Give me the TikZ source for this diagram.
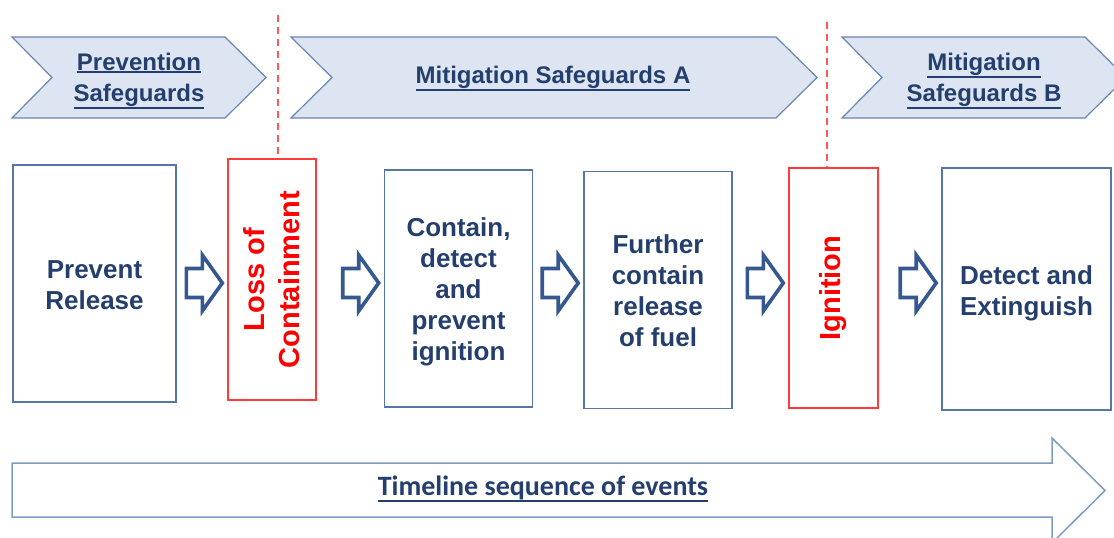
\documentclass[tikz,border=0pt]{standalone}
\usepackage{fontspec}
\setmainfont{Liberation Sans}
\newfontfamily\calfont{Carlito}
\usetikzlibrary{calc}

\definecolor{textblue}{HTML}{243F6E}
\definecolor{boxblue}{HTML}{5675A8}
\definecolor{arrowblue}{HTML}{34588F}
\definecolor{chevfill}{HTML}{DCE5F1}
\definecolor{chevline}{HTML}{6A86B2}
\definecolor{lossred}{HTML}{FF3B3B}
\definecolor{timeline}{HTML}{7F9AC4}

% thick underline below the depth of the word
\newcommand{\undl}[1]{\setbox0\hbox{#1}\rlap{\rule[-\dimexpr\dp0+2.5pt\relax]{\wd0}{2pt}}\box0}

\tikzset{
  bluebox/.style={draw=boxblue, line width=1.6pt, inner sep=0pt},
  bluetext/.style={text=textblue, align=center,
    font=\bfseries\fontsize{26}{31}\selectfont},
  redbox/.style={draw=lossred, line width=1.4pt, inner sep=0pt},
  redtext/.style={rotate=90, text=red, align=center,
    font=\bfseries\fontsize{29}{35}\selectfont},
  chevron/.style={fill=chevfill, draw=chevline, line width=1.2pt},
  chevtext/.style={text=textblue, align=center, font=\bfseries\fontsize{24}{31}\selectfont},
  blockarrow/.style={draw=arrowblue, line width=3.6pt, fill=white},
  cut/.style={draw=lossred!85, line width=1.5pt, dash pattern=on 7pt off 5pt},
}

\newcommand{\blockarr}[2]{%
  \draw[blockarrow] let \p1=(#2.west), \p2=(0,283) in
    (\x1-41pt,\y2+14.5pt) -- (\x1-25pt,\y2+14.5pt) -- (\x1-25pt,\y2+28pt)
    -- (\x1-5pt,\y2) -- (\x1-25pt,\y2-28pt) -- (\x1-25pt,\y2-14.5pt)
    -- (\x1-41pt,\y2-14.5pt) -- cycle;}

\begin{document}
\begin{tikzpicture}[x=1pt, y=-1pt]
  \useasboundingbox (0,0) rectangle (1114,538);
  \clip (0,0) rectangle (1114,538);

  % safeguard bands
  \draw[chevron] (12,37) -- (225,37) -- (266,77.5) -- (225,118) -- (12,118) -- (52,77.5) -- cycle;
  \draw[chevron] (291,37) -- (776,37) -- (817,77.5) -- (776,118) -- (291,118) -- (332,77.5) -- cycle;
  \draw[chevron] (842,37) -- (1085,37) -- (1126,77.5) -- (1085,118) -- (842,118) -- (882,77.5) -- cycle;
  \node[chevtext] (prev) at (139,81) {\undl{Prevention}\\\undl{Safeguards}};
  \node[chevtext] (mitA) at (553,79) {\undl{Mitigation Safeguards A}};
  \node[chevtext] (mitB) at (984,81) {\undl{Mitigation}\\\undl{Safeguards B}};

  % event boxes
  \node[bluebox, minimum width=163, minimum height=237,
        label={[bluetext, yshift=-2pt]center:Prevent\\Release}] (release) at (94.5,283.5) {};
  \node[redbox, minimum width=88, minimum height=241,
        label={[redtext]center:Loss of\\Containment}] (loss) at (272,279.5) {};
  \node[bluebox, minimum width=148, minimum height=237,
        label={[bluetext, yshift=-3pt]center:Contain,\\detect\\and\\prevent\\ignition}] (contain) at (458.5,288.5) {};
  \node[bluebox, minimum width=148, minimum height=237,
        label={[bluetext, yshift=-1pt]center:Further\\contain\\release\\of fuel}] (further) at (658,290) {};
  \node[redbox, minimum width=89, minimum height=240,
        label={[redtext]center:Ignition}] (ignition) at (833.5,288) {};
  \node[bluebox, minimum width=169, minimum height=242,
        label={[bluetext, yshift=-4pt]center:Detect and\\Extinguish}] (detect) at (1026.5,289) {};

  \blockarr{release}{loss}
  \blockarr{loss}{contain}
  \blockarr{contain}{further}
  \blockarr{further}{ignition}
  \blockarr{ignition}{detect}

  % red cut lines
  \coordinate (cutA) at (278,15);
  \coordinate (cutB) at (827,22);
  \draw[cut] (cutA) -- (cutA |- loss.north);
  \draw[cut] (cutB) -- (cutB |- ignition.north);

  % timeline
  \draw[draw=timeline, line width=1.5pt, fill=white] (12,463) -- (1052,463) -- (1052,438)
    -- (1105,490.5) -- (1052,543) -- (1052,517) -- (12,517) -- cycle;
  \node[text=textblue, font=\calfont\bfseries\fontsize{28}{31}\selectfont] (time) at (543,489)
    {\undl{Timeline sequence of events}};
\end{tikzpicture}
\end{document}
